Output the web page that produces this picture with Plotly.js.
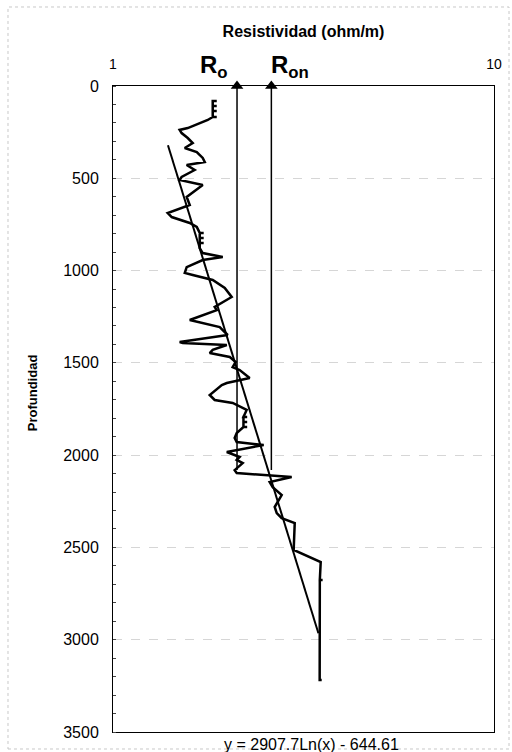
<!DOCTYPE html>
<html><head><meta charset="utf-8">
<script src="https://cdn.plot.ly/plotly-3.0.1.min.js"></script>
<style>html,body{margin:0;padding:0;background:#fff}</style>
</head><body><div id="chart" style="width:512px;height:752px"></div>
<script>
// Resistivity log (ohm/m) vs depth
const resistivity = [
  1.827,1.872,1.827,1.827,1.872,1.827,1.827,1.872,1.827,1.827,1.872,1.827,
  1.773,1.689,1.571,1.496,1.514,1.571,1.619,1.543,1.659,1.720,1.741,1.561,1.638,1.514,1.496,1.720,1.561,1.590,
  1.392,1.426,1.590,1.659,
  1.689,1.730,1.689,1.689,1.730,1.689,1.689,1.730,1.689,1.689,
  1.720,1.941,1.720,1.561,1.543,1.619,1.827,1.965,2.049,1.849,1.872,1.590,1.906,2.000,1.496,1.524,1.989,
  1.827,1.794,2.025,2.099,2.061,2.150,2.284,1.989,1.930,1.794,1.849,2.061,2.243,
  2.200,2.250,2.200,2.200,2.250,2.200,2.200,2.250,2.200,
  2.112,2.086,2.112,2.486,1.989,2.150,2.112,2.190,2.086,2.112,2.944,2.578,2.625,2.772,2.657,2.690,2.772,
  2.999,2.980,3.509,3.490,3.550,3.490,3.487,3.530
];
const depth = [
  81,81,81,108,108,108,135,135,135,168,168,168,
  184,200,228,238,255,282,309,336,358,390,412,428,455,493,509,536,601,645,
  688,710,742,764,
  796,796,796,823,823,823,850,850,850,878,
  905,927,943,981,1013,1024,1051,1094,1143,1197,1214,1268,1306,1349,1387,1392,1403,
  1430,1447,1468,1495,1523,1539,1582,1609,1620,1674,1701,1717,1755,
  1793,1793,1793,1820,1820,1820,1848,1848,1848,
  1880,1907,1929,1945,1983,2010,2026,2043,2081,2097,2118,2146,2173,2216,2281,2314,2341,
  2368,2514,2579,2677,2677,2677,3218,3218
];
// Trend line y = 2907.7 Ln(x) - 644.61 (end points)
const trendResistivity = [1.394, 3.46];
const trendDepth = [321, 2965];
// Reference resistivities R_o and R_on
const roValue = 2.116;
const ronValue = 2.604;
const refLineDepth = [0, 2080];
// Ticks
const xTickVals = [1, 10];
const xTickText = ['1', '10'];
const yTickVals = [0, 500, 1000, 1500, 2000, 2500, 3000, 3500];
const yTickText = ['0', '500', '1000', '1500', '2000', '2500', '3000', '3500'];
const titleText = 'Resistividad (ohm/m)';
const yTitleText = 'Profundidad';
const equationText = 'y = 2907.7Ln(x) - 644.61';

const FONT = 'Liberation Sans, Arial, sans-serif';

const traces = [
  {x: resistivity, y: depth, type: 'scatter', mode: 'lines',
   line: {color: '#000', width: 2.5}, hoverinfo: 'skip'},
  {x: trendResistivity, y: trendDepth, type: 'scatter', mode: 'lines',
   line: {color: '#000', width: 2}, hoverinfo: 'skip'},
  {x: [roValue, roValue], y: refLineDepth, type: 'scatter', mode: 'lines',
   line: {color: '#000', width: 1.5}, hoverinfo: 'skip'},
  {x: [ronValue, ronValue], y: refLineDepth, type: 'scatter', mode: 'lines',
   line: {color: '#000', width: 1.5}, hoverinfo: 'skip'},
  {x: [roValue, ronValue], y: [refLineDepth[0], refLineDepth[0]], type: 'scatter', mode: 'markers',
   marker: {symbol: 'triangle-up', size: 11, color: '#000'}, cliponaxis: false, hoverinfo: 'skip'}
];

const layout = {
  width: 512, height: 752,
  margin: {l: 113, r: 18, t: 86, b: 20},
  paper_bgcolor: '#fff', plot_bgcolor: '#fff',
  showlegend: false,
  font: {family: FONT, color: '#000'},
  xaxis: {type: 'log', range: [0, 1], side: 'top', tickmode: 'array', tickvals: xTickVals, ticktext: xTickText,
          showline: true, mirror: true, linecolor: '#000', linewidth: 1, showgrid: false, zeroline: false,
          ticks: '', tickfont: {size: 14}, ticklabelstandoff: 10, fixedrange: true,
          title: {text: '<b>' + titleText + '</b>', font: {size: 16, family: FONT, color: '#000'}, standoff: 14}},
  yaxis: {range: [3500, 0], tickmode: 'array', tickvals: yTickVals, ticktext: yTickText,
          showline: true, mirror: true, linecolor: '#000', linewidth: 1,
          showgrid: true, gridcolor: '#d6d6d6', griddash: 'dash', gridwidth: 1, zeroline: false,
          ticks: '', tickfont: {size: 16}, ticklabelstandoff: 10, fixedrange: true,
          minor: {tickmode: 'linear', tick0: 0, dtick: 100, ticks: 'inside', ticklen: 3, tickcolor: '#444', showgrid: false}},
  shapes: [
    {type: 'rect', xref: 'paper', yref: 'paper', x0: -0.2756, x1: 1.0394, y0: -0.0263, y1: 1.1223,
     line: {color: '#c8c8c8', width: 1, dash: 'dot'}, layer: 'below'}
  ],
  annotations: [
    {xref: 'x', yref: 'paper', x: Math.log10(roValue), y: 1, xanchor: 'right', yanchor: 'bottom',
     xshift: -7, yshift: 2, showarrow: false, text: '<b>R<sub>o</sub></b>', font: {size: 24, family: FONT}},
    {xref: 'x', yref: 'paper', x: Math.log10(ronValue), y: 1, xanchor: 'left', yanchor: 'bottom',
     xshift: -2, yshift: 2, showarrow: false, text: '<b>R<sub>on</sub></b>', font: {size: 24, family: FONT}},
    {xref: 'paper', yref: 'paper', x: 0.521, y: -0.0186, xanchor: 'center', yanchor: 'middle',
     showarrow: false, text: equationText, font: {size: 16, family: FONT}},
    {xref: 'paper', yref: 'paper', x: -0.2126, y: 0.526, xanchor: 'center', yanchor: 'middle',
     showarrow: false, textangle: -90, text: '<b>' + yTitleText + '</b>', font: {size: 13, family: FONT}}
  ]
};

Plotly.newPlot('chart', traces, layout, {displayModeBar: false, staticPlot: true});
</script>
</body></html>
